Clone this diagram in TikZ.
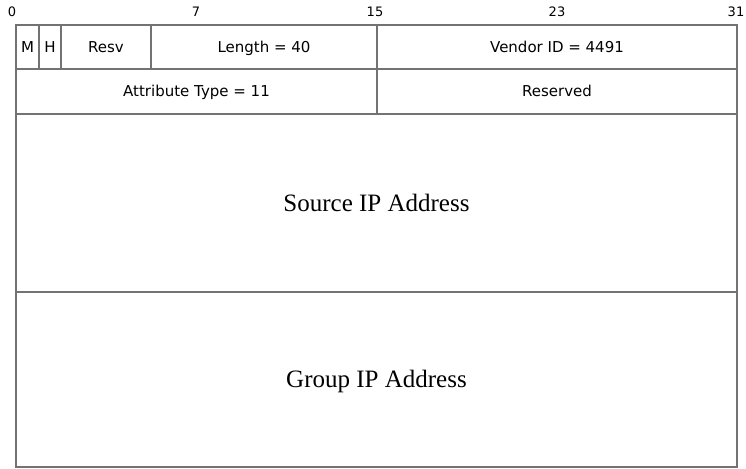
\documentclass[tikz,border=0pt]{standalone}
\usepackage{fontspec}
\setmainfont{Liberation Serif}
\newfontfamily\fieldfont{DejaVu Sans}
\usepackage{tikz}
\usetikzlibrary{positioning}

\begin{document}
\begin{tikzpicture}[
    x=1pt, y=-1pt,
    field/.style={rectangle, draw=black!55, line width=1.5pt, inner sep=0pt,
      text height=13.9pt, text depth=3pt,
      font=\fieldfont\fontsize{15}{17}\selectfont},
    bigfield/.style={field, text height=21.5pt, text depth=5pt,
      font=\fontsize{25}{29}\selectfont},
    bit label/.style={inner sep=0pt, font=\fieldfont\fontsize{13}{15}\selectfont},
  ]
  \useasboundingbox (0,0) rectangle (746,468);

  % Bit numbers
  \node[bit label] (b0)  at (12,  12) {0};
  \node[bit label] (b7)  at (196, 12) {7};
  \node[bit label] (b15) at (375, 12) {15};
  \node[bit label] (b23) at (557, 12) {23};
  \node[bit label] (b31) at (736, 12) {31};

  % First word
  \node[field, minimum width=23pt,  minimum height=44pt] (m)      at (27.5, 47) {M};
  \node[field, minimum width=22pt,  minimum height=44pt] (h)      at (50,   47) {H};
  \node[field, minimum width=90pt,  minimum height=44pt] (resv)   at (106,  47) {Resv};
  \node[field, minimum width=226pt, minimum height=44pt] (length) at (264,  47) {Length = 40};
  \node[field, minimum width=360pt, minimum height=44pt] (vendor) at (557,  47) {Vendor ID = 4491};

  % Second word
  \node[field, minimum width=361pt, minimum height=45pt] (atype)    at (196.5, 91.5) {Attribute Type = 11};
  \node[field, minimum width=360pt, minimum height=45pt] (reserved) at (557,   91.5) {Reserved};

  % Addresses
  \node[bigfield, minimum width=721pt, minimum height=178pt] (source) at (376.5, 203)   {Source IP Address};
  \node[bigfield, minimum width=721pt, minimum height=175pt] (group)  at (376.5, 379.5) {Group IP Address};

\end{tikzpicture}
\end{document}
